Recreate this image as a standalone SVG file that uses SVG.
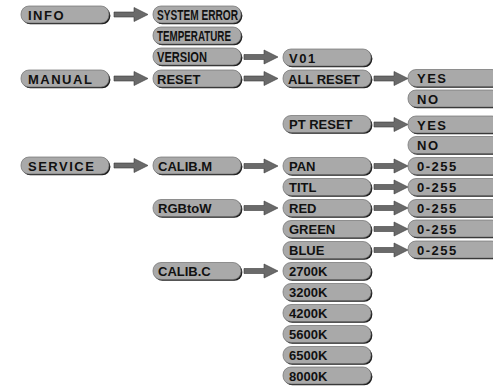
<svg xmlns="http://www.w3.org/2000/svg" xmlns:xlink="http://www.w3.org/1999/xlink" width="493" height="387" viewBox="0 0 493 387">
<style>
.sh{fill:#1c1c1c}
.bx{fill:#a9a9a9;stroke:#707070;stroke-width:0.7}
text{font-family:"Liberation Sans",Arial,sans-serif;font-weight:bold;font-size:13px;fill:#111}
.c1{letter-spacing:1.5px}
.c4{letter-spacing:1.5px}
.nar{font-size:14px}
.ar{fill:#6a6a6a;stroke:#3a3a3a;stroke-width:0.6}
</style>
<defs>
<polygon id="arr" class="ar" points="0,-2.5 20,-2.5 20,-7 34,0 20,7 20,2.5 0,2.5"/>
<g id="b88"><rect class="sh" x="1.3" y="1.3" width="88" height="17" rx="8"/><rect class="bx" x="0" y="0" width="88" height="17" rx="8"/></g>
<g id="b92"><rect class="sh" x="1.3" y="1.3" width="92" height="17" rx="8"/><rect class="bx" x="0" y="0" width="92" height="17" rx="8"/></g>
</defs>
<rect width="493" height="387" fill="#fff"/>
<g id="connectors">
<use xlink:href="#arr" x="114" y="14.5"/>
<use xlink:href="#arr" x="114" y="78.5"/>
<use xlink:href="#arr" x="114" y="165.5"/>
<use xlink:href="#arr" x="244" y="57"/>
<use xlink:href="#arr" x="244" y="78.5"/>
<use xlink:href="#arr" x="244" y="166"/>
<use xlink:href="#arr" x="244" y="208"/>
<use xlink:href="#arr" x="244" y="271"/>
<use xlink:href="#arr" x="374" y="78.5"/>
<use xlink:href="#arr" x="374" y="124.5"/>
<use xlink:href="#arr" x="374" y="166"/>
<use xlink:href="#arr" x="374" y="187"/>
<use xlink:href="#arr" x="374" y="208"/>
<use xlink:href="#arr" x="374" y="229"/>
<use xlink:href="#arr" x="374" y="250"/>
</g>
<g id="info"><use xlink:href="#b88" x="21" y="6"/><text class="c1" x="28" y="19.5">INFO</text></g>
<g id="manual"><use xlink:href="#b88" x="21" y="70"/><text class="c1" x="28" y="83.5">MANUAL</text></g>
<g id="service"><use xlink:href="#b88" x="21" y="157"/><text class="c1" x="28" y="170.5">SERVICE</text></g>
<g id="system-error"><use xlink:href="#b88" x="153" y="6"/><text class="nar" x="157" y="20" textLength="81" lengthAdjust="spacingAndGlyphs">SYSTEM ERROR</text></g>
<g id="temperature"><use xlink:href="#b88" x="153" y="27"/><text class="nar" x="157" y="41" textLength="74" lengthAdjust="spacingAndGlyphs">TEMPERATURE</text></g>
<g id="version"><use xlink:href="#b88" x="153" y="48"/><text class="nar" x="157" y="62" textLength="50" lengthAdjust="spacingAndGlyphs">VERSION</text></g>
<g id="reset"><use xlink:href="#b88" x="153" y="70"/><text x="157" y="83.5">RESET</text></g>
<g id="calib-m"><use xlink:href="#b88" x="153" y="157"/><text x="158" y="170.5">CALIB.M</text></g>
<g id="rgbtow"><use xlink:href="#b88" x="153" y="199.5"/><text x="158" y="213">RGBtoW</text></g>
<g id="calib-c"><use xlink:href="#b88" x="153" y="262.5"/><text x="158" y="276">CALIB.C</text></g>
<g id="v01"><use xlink:href="#b88" x="283" y="49"/><text class="c4" x="289" y="62.5">V01</text></g>
<g id="all-reset"><use xlink:href="#b88" x="283" y="70"/><text x="288" y="83.5">ALL RESET</text></g>
<g id="pt-reset"><use xlink:href="#b88" x="283" y="115.5"/><text x="289" y="129">PT RESET</text></g>
<g id="pan"><use xlink:href="#b88" x="283" y="157.5"/><text x="289" y="171">PAN</text></g>
<g id="titl"><use xlink:href="#b88" x="283" y="178.5"/><text x="289" y="192">TITL</text></g>
<g id="red"><use xlink:href="#b88" x="283" y="199.5"/><text x="289" y="213">RED</text></g>
<g id="green"><use xlink:href="#b88" x="283" y="220.5"/><text x="289" y="234">GREEN</text></g>
<g id="blue"><use xlink:href="#b88" x="283" y="241.5"/><text x="289" y="255">BLUE</text></g>
<g id="k2700"><use xlink:href="#b88" x="283" y="262.5"/><text x="289" y="276">2700K</text></g>
<g id="k3200"><use xlink:href="#b88" x="283" y="283.5"/><text x="289" y="297">3200K</text></g>
<g id="k4200"><use xlink:href="#b88" x="283" y="304.5"/><text x="289" y="318">4200K</text></g>
<g id="k5600"><use xlink:href="#b88" x="283" y="325.5"/><text x="289" y="339">5600K</text></g>
<g id="k6500"><use xlink:href="#b88" x="283" y="346.5"/><text x="289" y="360">6500K</text></g>
<g id="k8000"><use xlink:href="#b88" x="283" y="367"/><text x="289" y="380.5">8000K</text></g>
<g id="yes1"><use xlink:href="#b92" x="408" y="69.5"/><text class="c4" x="417" y="83">YES</text></g>
<g id="no1"><use xlink:href="#b92" x="408" y="90"/><text class="c4" x="417" y="103.5">NO</text></g>
<g id="yes2"><use xlink:href="#b92" x="408" y="116"/><text class="c4" x="417" y="129.5">YES</text></g>
<g id="no2"><use xlink:href="#b92" x="408" y="136.5"/><text class="c4" x="417" y="150">NO</text></g>
<g id="pan-val"><use xlink:href="#b92" x="408" y="157.5"/><text class="c4" x="417" y="171">0-255</text></g>
<g id="titl-val"><use xlink:href="#b92" x="408" y="178.5"/><text class="c4" x="417" y="192">0-255</text></g>
<g id="red-val"><use xlink:href="#b92" x="408" y="199.5"/><text class="c4" x="417" y="213">0-255</text></g>
<g id="green-val"><use xlink:href="#b92" x="408" y="220"/><text class="c4" x="417" y="233.5">0-255</text></g>
<g id="blue-val"><use xlink:href="#b92" x="408" y="241"/><text class="c4" x="417" y="254.5">0-255</text></g>
</svg>
